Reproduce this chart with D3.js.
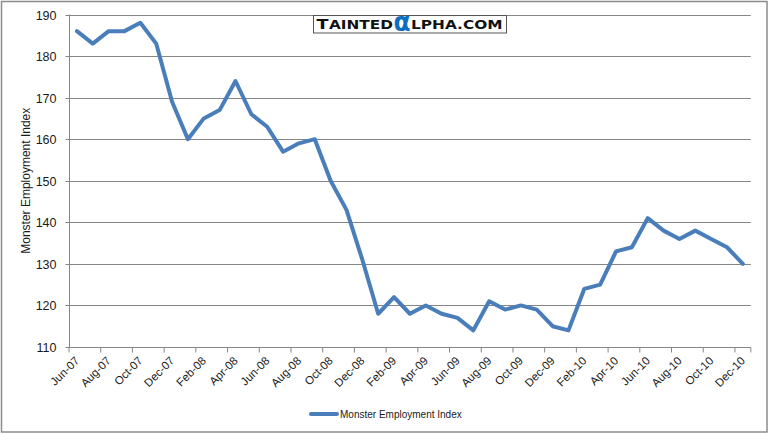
<!DOCTYPE html>
<html><head><meta charset="utf-8">
<script src="https://cdn.jsdelivr.net/npm/d3@7"></script>
<style>body{margin:0;background:#fff}svg{display:block}</style>
</head><body>
<script>
const categories = ["Jun-07","Jul-07","Aug-07","Sep-07","Oct-07","Nov-07","Dec-07",
"Jan-08","Feb-08","Mar-08","Apr-08","May-08","Jun-08","Jul-08","Aug-08","Sep-08","Oct-08","Nov-08","Dec-08",
"Jan-09","Feb-09","Mar-09","Apr-09","May-09","Jun-09","Jul-09","Aug-09","Sep-09","Oct-09","Nov-09","Dec-09",
"Jan-10","Feb-10","Mar-10","Apr-10","May-10","Jun-10","Jul-10","Aug-10","Sep-10","Oct-10","Nov-10","Dec-10"];
const values = [186,183,186,186,188,183,169,
160,165,167,174,166,163,157,159,160,150,143,131,
118,122,118,120,118,117,114,121,119,120,119,115,
114,124,125,133,134,141,138,136,138,136,134,130];
const yTicks = [110,120,130,140,150,160,170,180,190];
const seriesName = "Monster Employment Index";
const axisTitle = "Monster Employment Index";

(function(){
const W = 769, H = 433;
const svg = d3.select("body").append("svg").attr("width", W).attr("height", H);
svg.append("rect").attr("x",1.5).attr("y",1.5).attr("width",765.5).attr("height",430.5)
  .attr("fill","#fff").attr("stroke","#8c8c8c").attr("stroke-width",1.5);

const pL = 69, pR = 750.8, pT = 14.5, pB = 347;
const x = d3.scaleBand().domain(categories).range([pL, pR]).padding(0);
const y = d3.scaleLinear().domain([110,190]).range([pB, pT]);
const font = "'Liberation Sans', Arial, sans-serif";

// gridlines
svg.append("g").selectAll("line").data(yTicks.slice(1)).join("line")
  .attr("x1", pL).attr("x2", pR)
  .attr("y1", d => Math.round(y(d))+0.5).attr("y2", d => Math.round(y(d))+0.5)
  .attr("stroke","#868686").attr("stroke-width",1);

// y axis
const ya = svg.append("g").attr("transform",`translate(${pL+0.5},0)`)
  .call(d3.axisLeft(y).tickValues(yTicks).tickSize(4).tickPadding(9).tickFormat(d3.format("d")));
ya.select(".domain").attr("stroke","#868686").attr("d",`M0,${y(190)}V${y(110)}`);
ya.selectAll(".tick").attr("transform", d => `translate(0,${Math.round(y(d))+0.5})`);
ya.selectAll(".tick line").attr("stroke","#868686");
ya.selectAll("text").attr("font-family",font).attr("font-size",12.5).attr("fill","#1a1a1a");

// x axis
const xa = svg.append("g").attr("transform",`translate(0,${Math.round(pB)+0.5})`);
xa.append("line").attr("x1",pL).attr("x2",pR).attr("stroke","#868686");
const tickCats = categories.filter((d,i)=> i%2===0);
xa.selectAll("line.tk").data(tickCats.concat(["__end"])).join("line").attr("class","tk")
  .attr("x1", d => d==="__end" ? pR : x(d)).attr("x2", d => d==="__end" ? pR : x(d))
  .attr("y1",0).attr("y2",5).attr("stroke","#868686");
xa.selectAll("text").data(tickCats).join("text")
  .attr("transform", d => `translate(${x(d)+x.bandwidth()/2+3},${14}) rotate(-45)`)
  .attr("text-anchor","end").attr("font-family",font).attr("font-size",11.5).attr("fill","#1a1a1a")
  .text(d => d);

// y title
svg.append("text").attr("transform",`translate(30,${(pT+pB)/2}) rotate(-90)`)
  .attr("text-anchor","middle").attr("font-family",font).attr("font-size",12).attr("fill","#1a1a1a")
  .text(axisTitle);

// line
const line = d3.line().x((d,i)=> x(categories[i]) + x.bandwidth()/2).y(d => y(d));
svg.append("path").datum(values).attr("d", line).attr("fill","none")
  .attr("stroke","#4a7ebb").attr("stroke-width",4).attr("stroke-linejoin","round").attr("stroke-linecap","round");

// legend
svg.append("line").attr("x1",311).attr("x2",337).attr("y1",414).attr("y2",414)
  .attr("stroke","#4a7ebb").attr("stroke-width",4).attr("stroke-linecap","round");
svg.append("text").attr("x",340).attr("y",418).attr("font-family",font).attr("font-size",10)
  .attr("fill","#1a1a1a").text(seriesName);

// watermark
const wm = svg.append("g");
wm.append("rect").attr("x",313.5).attr("y",15.5).attr("width",193).attr("height",17.5)
  .attr("fill","#fff").attr("stroke","#555").attr("stroke-width",1);
const wfont = "'DejaVu Sans', Verdana, sans-serif";
const wt = wm.append("text").attr("font-family",wfont).attr("font-weight","bold").attr("fill","#111");
wt.append("tspan").attr("x",316.5).attr("y",29).attr("font-size",14).attr("textLength",12).attr("lengthAdjust","spacingAndGlyphs").text("T");
wt.append("tspan").attr("x",329).attr("y",29).attr("font-size",11.5).attr("textLength",64).attr("lengthAdjust","spacingAndGlyphs").text("AINTED");
wt.append("tspan").attr("x",393.5).attr("y",30.5).attr("font-size",26).attr("fill","#0a6fc2").attr("textLength",17).attr("lengthAdjust","spacingAndGlyphs").text("α");
wt.append("tspan").attr("x",411).attr("y",29).attr("font-size",11.5).attr("textLength",91.5).attr("lengthAdjust","spacingAndGlyphs").text("LPHA.COM");
})();
</script>
</body></html>
